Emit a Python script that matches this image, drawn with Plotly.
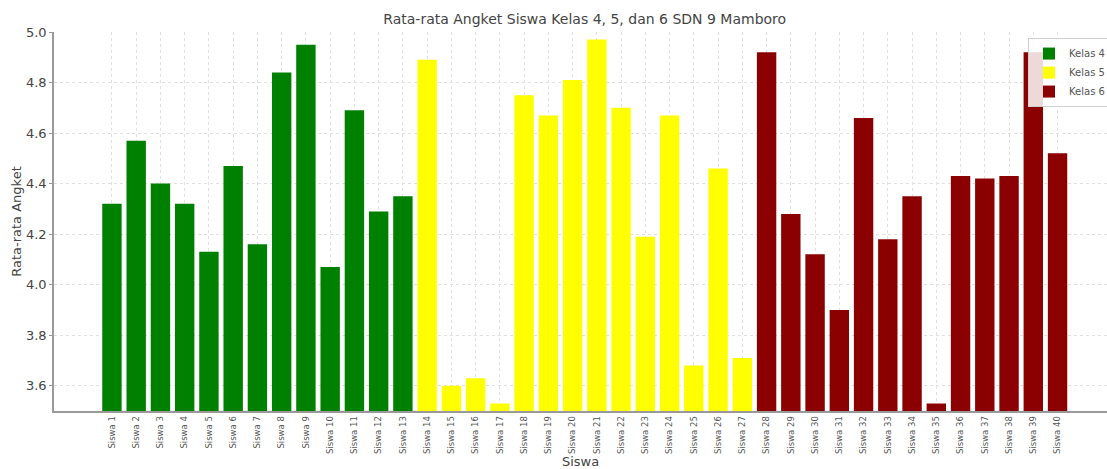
import plotly.graph_objects as go

# ---- data ----
siswa_kelas4 = ["Siswa 1", "Siswa 2", "Siswa 3", "Siswa 4", "Siswa 5", "Siswa 6", "Siswa 7",
                "Siswa 8", "Siswa 9", "Siswa 10", "Siswa 11", "Siswa 12", "Siswa 13"]
nilai_kelas4 = [4.32, 4.57, 4.40, 4.32, 4.13, 4.47, 4.16, 4.84, 4.95, 4.07, 4.69, 4.29, 4.35]

siswa_kelas5 = ["Siswa 14", "Siswa 15", "Siswa 16", "Siswa 17", "Siswa 18", "Siswa 19", "Siswa 20",
                "Siswa 21", "Siswa 22", "Siswa 23", "Siswa 24", "Siswa 25", "Siswa 26", "Siswa 27"]
nilai_kelas5 = [4.89, 3.60, 3.63, 3.53, 4.75, 4.67, 4.81, 4.97, 4.70, 4.19, 4.67, 3.68, 4.46, 3.71]

siswa_kelas6 = ["Siswa 28", "Siswa 29", "Siswa 30", "Siswa 31", "Siswa 32", "Siswa 33", "Siswa 34",
                "Siswa 35", "Siswa 36", "Siswa 37", "Siswa 38", "Siswa 39", "Siswa 40"]
nilai_kelas6 = [4.92, 4.28, 4.12, 3.90, 4.66, 4.18, 4.35, 3.53, 4.43, 4.42, 4.43, 4.92, 4.52]

y_ticks = [3.6, 3.8, 4.0, 4.2, 4.4, 4.6, 4.8, 5.0]

title_text = "Rata-rata Angket Siswa Kelas 4, 5, dan 6 SDN 9 Mamboro"
x_title = "Siswa"
y_title = "Rata-rata Angket"

FONT = "DejaVu Sans"
TXT = "#444444"

fig = go.Figure()
for name, xs, ys, col in [("Kelas 4", siswa_kelas4, nilai_kelas4, "#008000"),
                          ("Kelas 5", siswa_kelas5, nilai_kelas5, "#ffff00"),
                          ("Kelas 6", siswa_kelas6, nilai_kelas6, "#8b0000")]:
    fig.add_trace(go.Bar(x=xs, y=ys, name=name, width=0.8,
                         marker=dict(color=col, line=dict(width=0))))

all_cats = siswa_kelas4 + siswa_kelas5 + siswa_kelas6

fig.update_layout(
    width=1107, height=469,
    margin=dict(l=54, r=0, t=32, b=58, autoexpand=False),
    paper_bgcolor="white", plot_bgcolor="white",
    font=dict(family=FONT, color=TXT),
    barmode="overlay",
    title=dict(text=title_text, x=0.504, xref="paper", xanchor="center",
               y=1 - 19 / 469, yref="container", yanchor="middle",
               font=dict(size=14, color=TXT, family=FONT)),
    legend=dict(x=0.925, y=0.984, xanchor="left", yanchor="top",
                bgcolor="rgba(255,255,255,0.85)", bordercolor="#d0d0d0", borderwidth=1,
                font=dict(size=10, color="#555555", family=FONT),
                itemwidth=30, tracegroupgap=0),
    showlegend=True,
)

fig.update_xaxes(
    type="category", categoryorder="array", categoryarray=all_cats,
    range=[-2.39, 41.04], automargin=False,
    tickangle=-90, tickfont=dict(size=8.5, color="#555555", family=FONT),
    showgrid=True, gridcolor="#e0e0e0", griddash="dot", gridwidth=1,
    showline=True, linecolor="#999999", linewidth=1.5,
    ticks="", zeroline=False,
    title=dict(text=x_title, standoff=1, font=dict(size=13, color=TXT, family=FONT)),
)

fig.update_yaxes(
    range=[3.5, 5.0], tickvals=y_ticks, tickformat=".1f", automargin=False,
    tickfont=dict(size=13, color=TXT, family=FONT),
    showgrid=True, gridcolor="#e0e0e0", griddash="dot", gridwidth=1,
    showline=True, linecolor="#999999", linewidth=1.5,
    ticks="outside", ticklen=3, tickcolor="#999999", zeroline=False,
    title=dict(text=y_title, standoff=1, font=dict(size=13, color=TXT, family=FONT)),
)

fig.write_html("out.html", config={"displayModeBar": False},
               post_script="document.body.style.margin='0';document.body.style.overflow='hidden';")
